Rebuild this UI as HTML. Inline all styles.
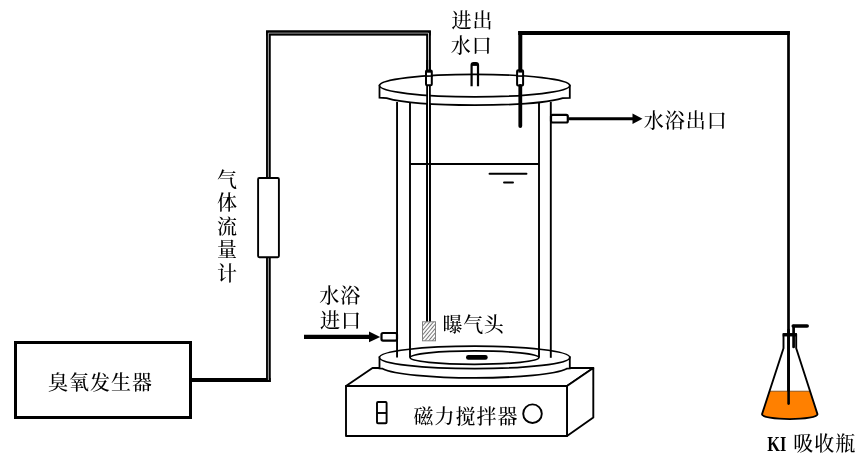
<!DOCTYPE html>
<html lang="zh-CN">
<head>
<meta charset="utf-8">
<title>臭氧反应装置示意图</title>
<style>
html,body{margin:0;padding:0;background:#fff;}
body{width:864px;height:466px;overflow:hidden;position:relative;}
svg{display:block;position:absolute;left:0;top:0;will-change:transform;}
text{font-family:"Liberation Serif","Noto Serif CJK SC",serif;font-size:20px;letter-spacing:1px;fill:#000;font-weight:500;}
.k{font-weight:bold;}
.t{fill:none;stroke:#000;stroke-width:1.9;}
.w{fill:#fff;stroke:#000;stroke-width:1.9;}
</style>
</head>
<body>
<svg width="864" height="466" viewBox="0 0 864 466">
<defs>
<pattern id="hatch" width="2.8" height="2.8" patternUnits="userSpaceOnUse" patternTransform="rotate(-50)">
<rect width="2.8" height="2.8" fill="#fff"/>
<line x1="0" y1="1.4" x2="2.8" y2="1.4" stroke="#777" stroke-width="1"/>
</pattern>
</defs>
<rect width="864" height="466" fill="#fff"/>

<!-- ozone generator -->
<rect x="15.5" y="342.5" width="175" height="75" fill="#fff" stroke="#000" stroke-width="3"/>
<text x="48" y="390">臭氧发生器</text>
<line x1="192" y1="380.05" x2="270.7" y2="380.05" stroke="#000" stroke-width="4"/>

<!-- gas tube (double line) -->
<g fill="none" stroke-linejoin="miter">
<path d="M268.4 382V32.9H428.5V322" stroke="#000" stroke-width="4.7"/>
<path d="M266.05 33H430.8" stroke="#000" stroke-width="5.1"/>
<path d="M268.4 33.1H428.5" stroke="#999" stroke-width="1"/>
<path d="M268.4 380V33.1" stroke="#ccc" stroke-width="0.8"/>
<path d="M428.5 33.1V322" stroke="#ccc" stroke-width="0.8"/>
</g>

<!-- flow meter -->
<rect x="258.1" y="178" width="20.8" height="79.2" rx="1.2" class="w"/>
<text x="216.9 216.9 216.9 216.9 216.9" y="187 210 234 257 281">气体流量计</text>

<!-- stirrer box -->
<g class="w" stroke-linejoin="round">
<path d="M346 386L372.5 368H593.3L567 386Z"/>
<path d="M567 386L593.3 368V417.5L567 436Z"/>
<rect x="346" y="386" width="221" height="50"/>
<rect x="377" y="402" width="9.6" height="21.2" rx="1"/>
<line x1="377" y1="413" x2="386.6" y2="413"/>
<circle cx="532.5" cy="413.7" r="9.3"/>
</g>
<text x="413.6" y="424">磁力搅拌器</text>

<!-- base disc -->
<path class="w" style="stroke-width:1.8" d="M379.5 357.2V368.5L382.6 368.7A95.15 12.3 0 0 0 566.7 368.7L569.8 368.5V357.2Z"/>
<ellipse class="w" style="stroke-width:1.7" cx="474.65" cy="357.4" rx="95.15" ry="11.2"/>
<ellipse class="t" style="stroke-width:1.7" cx="474.5" cy="357.6" rx="64.5" ry="6.7"/>
<rect x="466" y="355" width="21.7" height="4.75" rx="2.3" fill="#000"/>

<!-- cylinder walls -->
<g class="t">
<line x1="397.05" y1="102" x2="397.05" y2="357.5"/>
<line x1="410" y1="103" x2="410" y2="357.2"/>
<line x1="539" y1="103" x2="539" y2="357.2"/>
<line x1="550.8" y1="102" x2="550.8" y2="357.8"/>
<line x1="410" y1="164" x2="539" y2="164"/>
</g>
<g stroke="#000" stroke-width="1.9" stroke-linecap="round">
<line x1="489.5" y1="173.8" x2="526.5" y2="173.8"/>
<line x1="504" y1="182.5" x2="513" y2="182.5"/>
</g>

<!-- lid -->
<path class="w" style="stroke-width:1.8" d="M379.5 85.6V97.7L386.6 98.1A95.15 11.3 0 0 0 562.7 98.1L569.8 97.9V85.6Z"/>
<ellipse class="w" style="stroke-width:1.7" cx="474.65" cy="85.6" rx="95.15" ry="11.3"/>

<!-- redraw tube through lid -->
<g fill="none">
<path d="M428.5 60V322" stroke="#000" stroke-width="4.6"/>
<path d="M428.5 86V322" stroke="#fff" stroke-width="1"/>
<path d="M428.5 33V70" stroke="#ccc" stroke-width="0.8"/>
</g>
<line x1="426" y1="164" x2="431" y2="164" stroke="#000" stroke-width="1.9"/>
<rect x="426" y="70.6" width="5.8" height="14.6" rx="1" fill="#fff" stroke="#000" stroke-width="2"/>
<rect x="426" y="70" width="5.8" height="2.7" fill="#000"/>
<line x1="425" y1="76.1" x2="432.8" y2="76" stroke="#000" stroke-width="1.7"/>

<!-- aerator head -->
<rect x="422.5" y="321.8" width="13" height="19" fill="url(#hatch)" stroke="#808080" stroke-width="1"/>
<text x="442.6" y="332" style="letter-spacing:0.6px">曝气头</text>

<!-- centre port -->
<path d="M471.6 86.2V65A2 2 0 0 1 473.6 63H476A2 2 0 0 1 478 65V86.2" fill="none" stroke="#000" stroke-width="2.2"/>
<rect x="471.6" y="63" width="6.4" height="2.9" fill="#000"/>
<text><tspan x="451.5" y="28">进出</tspan><tspan x="450.7" y="53">水口</tspan></text>

<!-- outlet thick tube -->
<rect x="517.1" y="70.3" width="6" height="15.1" rx="1" fill="#fff" stroke="#000" stroke-width="2"/>
<line x1="516.2" y1="76" x2="524" y2="76.1" stroke="#000" stroke-width="1.7"/>
<g fill="none" stroke="#000">
<path d="M520.3 72.6V31.1" stroke-width="4"/>
<path d="M518.2 33.05H789.8" stroke-width="3.9"/>
<path d="M788.5 31.1V400" stroke-width="2.7" stroke-linecap="butt"/>
<path d="M520.3 86V126" stroke-width="3.8" stroke-linecap="round"/>
</g>

<!-- water bath outlet -->
<rect x="551" y="114.9" width="16.8" height="7.6" rx="1.5" fill="#fff" stroke="#000" stroke-width="2.2"/>
<line x1="568.5" y1="118.7" x2="634" y2="118.7" stroke="#000" stroke-width="3"/>
<path d="M632.5 113.5L642.5 118.7L632.5 124Z" fill="#000"/>
<text x="643.7" y="128">水浴出口</text>

<!-- water bath inlet -->
<line x1="304" y1="336.9" x2="371" y2="336.9" stroke="#000" stroke-width="4.1"/>
<path d="M369 331.4L380.2 336.9L369 342.3Z" fill="#000"/>
<rect x="381.5" y="333" width="15.5" height="7.6" rx="1.5" fill="#fff" stroke="#000" stroke-width="2.2"/>
<text><tspan x="319.3" y="303">水浴</tspan><tspan x="320" y="328">进口</tspan></text>

<!-- flask -->
<path d="M769.5 391.2H810L817.5 414.2C817.5 416.9 805.1 419.1 789.75 419.1C774.4 419.1 762 416.9 762 414.2Z" fill="#ff8000"/>
<line x1="769.5" y1="391.2" x2="810" y2="391.2" stroke="#5a2d00" stroke-width="0.7"/>
<path d="M783.5 334.3V348.3L762 414.2C762 416.9 774.4 419.1 789.75 419.1C805.1 419.1 817.5 416.9 817.5 414.2L796.2 348.3V334.3Z" fill="none" stroke="#000" stroke-width="1.9" stroke-linejoin="round"/>
<line x1="782.7" y1="334.8" x2="796.9" y2="334.8" stroke="#000" stroke-width="3.3"/>
<path d="M793.6 347V326" fill="none" stroke="#000" stroke-width="2.7" stroke-linecap="round"/>
<path d="M793.2 325.9H807.2" fill="none" stroke="#000" stroke-width="3.5" stroke-linecap="round"/>
<line x1="788.6" y1="330" x2="788.6" y2="403.6" stroke="#000" stroke-width="2.6" stroke-linecap="round"/>
<text x="767.3" y="451"><tspan class="k" textLength="19" lengthAdjust="spacingAndGlyphs" style="letter-spacing:0;font-size:21px">KI</tspan> <tspan x="793.2">吸收瓶</tspan></text>
</svg>
</body>
</html>
